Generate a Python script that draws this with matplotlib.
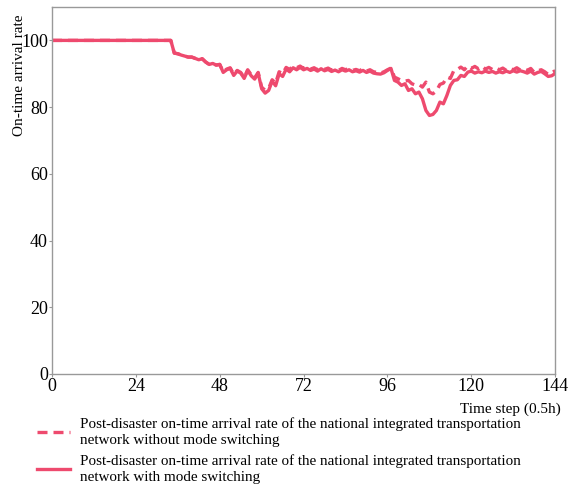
import numpy as np
import matplotlib.pyplot as plt

plt.rcParams['font.family'] = ['Liberation Serif', 'DejaVu Serif']

# time steps (0.5 h each)
steps = np.arange(0, 145)

# on-time arrival rate (%) without mode switching
rate_no_switch = [100] * 35 + [
    96.2, 96.0, 95.6, 95.3, 95.0, 95.0, 94.6, 94.2, 94.5, 93.5,
    92.8, 93.1, 92.6, 92.8, 90.6, 91.4, 91.8, 89.8, 91.0, 90.4,
    88.9, 91.2, 89.7, 88.8, 90.4, 86.0, 85.0, 85.6, 88.2, 87.2,
    90.6, 90.0, 91.9, 91.3, 92.4, 91.8, 92.3, 91.6, 92.2, 91.4,
    91.8, 91.2, 91.9, 91.3, 91.7, 91.1, 91.5, 91.0, 91.6, 91.2,
    91.7, 91.0, 91.3, 90.9, 91.5, 90.8, 91.2, 90.6, 90.4, 90.2,
    90.6, 91.2, 91.7, 89.0, 88.5, 88.0, 87.8, 88.0, 87.0, 86.6,
    86.8, 86.0, 87.5, 84.5, 84.0, 84.8, 86.8, 87.2, 89.0, 88.6,
    91.0, 91.3, 92.0, 91.2, 92.4, 91.6, 92.2, 91.5, 92.3, 91.4,
    91.9, 91.3, 91.8, 91.2, 91.7, 91.0, 91.6, 91.2, 91.8, 91.1,
    91.4, 91.0, 91.6, 90.4, 90.9, 91.2, 90.6, 89.8, 90.4, 90.9,
]

# on-time arrival rate (%) with mode switching
rate_switch = [100] * 35 + [
    96.2, 96.0, 95.6, 95.3, 95.0, 95.0, 94.6, 94.2, 94.5, 93.5,
    92.8, 93.1, 92.6, 92.8, 90.4, 91.2, 91.6, 89.5, 90.8, 90.2,
    88.6, 91.0, 89.4, 88.4, 90.2, 85.5, 84.2, 85.0, 87.8, 86.4,
    90.0, 89.2, 91.4, 90.6, 91.8, 91.2, 91.9, 91.2, 91.6, 91.0,
    91.4, 90.8, 91.5, 90.9, 91.3, 90.7, 91.1, 90.6, 91.2, 90.8,
    91.2, 90.6, 90.9, 90.5, 91.0, 90.4, 90.8, 90.2, 90.0, 89.9,
    90.3, 91.0, 91.6, 88.0, 87.5, 86.5, 87.0, 85.0, 85.5, 84.0,
    84.5, 82.5, 79.0, 77.5, 77.8, 79.0, 81.5, 81.0, 83.5, 86.5,
    88.0, 88.2, 89.5, 89.2, 90.5, 90.8, 90.2, 90.6, 90.3, 90.8,
    90.4, 90.7, 90.2, 90.6, 90.3, 90.8, 90.4, 90.9, 90.5, 90.9,
    90.6, 90.2, 90.8, 89.9, 90.4, 90.7, 90.0, 89.2, 89.4, 90.1,
]

color = '#EE4A6E'

fig = plt.figure(figsize=(5.68, 4.86), dpi=100)
ax = fig.add_axes([0.0915, 0.2305, 0.886, 0.755])

ax.plot(steps, rate_no_switch, color=color, lw=2.4, ls=(0, (3, 1.8)),
        label='Post-disaster on-time arrival rate of the national integrated transportation\nnetwork without mode switching')
ax.plot(steps, rate_switch, color=color, lw=2.4,
        label='Post-disaster on-time arrival rate of the national integrated transportation\nnetwork with mode switching')

ax.set_xlim(0, 144)
ax.set_ylim(0, 110)
ax.set_xticks(np.arange(0, 145, 24))
ax.set_yticks(np.arange(0, 101, 20))
ax.tick_params(labelsize=13, length=2, width=0.8, color='#999999', pad=1)
for s in ax.spines.values():
    s.set_color('#999999')
    s.set_linewidth(1.0)

ax.set_ylabel('On-time arrival rate', fontsize=11)
ax.yaxis.set_label_coords(-0.052, 0.815)
ax.set_xlabel('Time step (0.5h)', fontsize=11, ha='right')
ax.xaxis.set_label_coords(1.01, -0.077)

leg = ax.legend(loc='upper left', bbox_to_anchor=(-0.03, -0.119), frameon=False,
                fontsize=10.9, handlelength=2.2, handletextpad=0.65, labelspacing=0.45,
                borderpad=0, borderaxespad=0)
for t in leg.get_texts():
    t.set_linespacing(1.3)

fig.savefig('out.png', dpi=100)
